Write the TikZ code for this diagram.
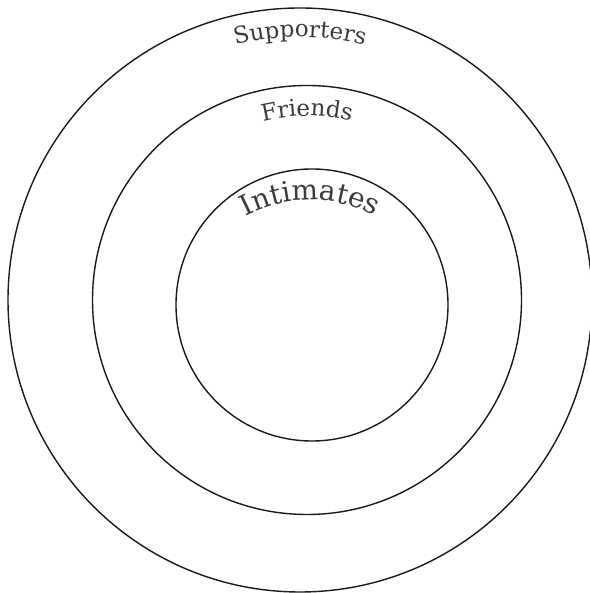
\documentclass[tikz,border=0pt]{standalone}
\usepackage{fontspec}
\setmainfont{DejaVu Serif}
\usetikzlibrary{decorations.text}
\definecolor{ringc}{HTML}{1A1A1A}
\definecolor{labc}{HTML}{3C3C3C}
\tikzset{
  ring/.style={draw=ringc,line width=0.7pt},
  arclab/.style={decorate,decoration={text along path,text align=center,text color=labc,text={#1}}}
}
\begin{document}
\begin{tikzpicture}[x=0.5pt,y=0.5pt]
\useasboundingbox (0,0) rectangle (589,593);
% centres of the three rings
\coordinate (oc) at (300,293);
\coordinate (mc) at (307,293);
\coordinate (ic) at (312,288);
\coordinate (tc) at (310,255);
\draw[ring] (oc) circle[radius=292];
\draw[ring] (mc) circle[radius=214.5];
\draw[ring] (ic) circle[radius=136];
% curved labels
\path[arclab={|\fontsize{11.5}{14}\selectfont|Supporters}] (oc) ++(150:263) arc[start angle=150,end angle=30,radius=263];
\path[arclab={|\fontsize{11.5}{14}\selectfont|Friends}] (mc) ++(150:184) arc[start angle=150,end angle=30,radius=184];
\path[arclab={|\fontsize{14}{17}\selectfont|Intimates}] (tc) ++(160:138) arc[start angle=160,end angle=20,radius=138];
\end{tikzpicture}
\end{document}
